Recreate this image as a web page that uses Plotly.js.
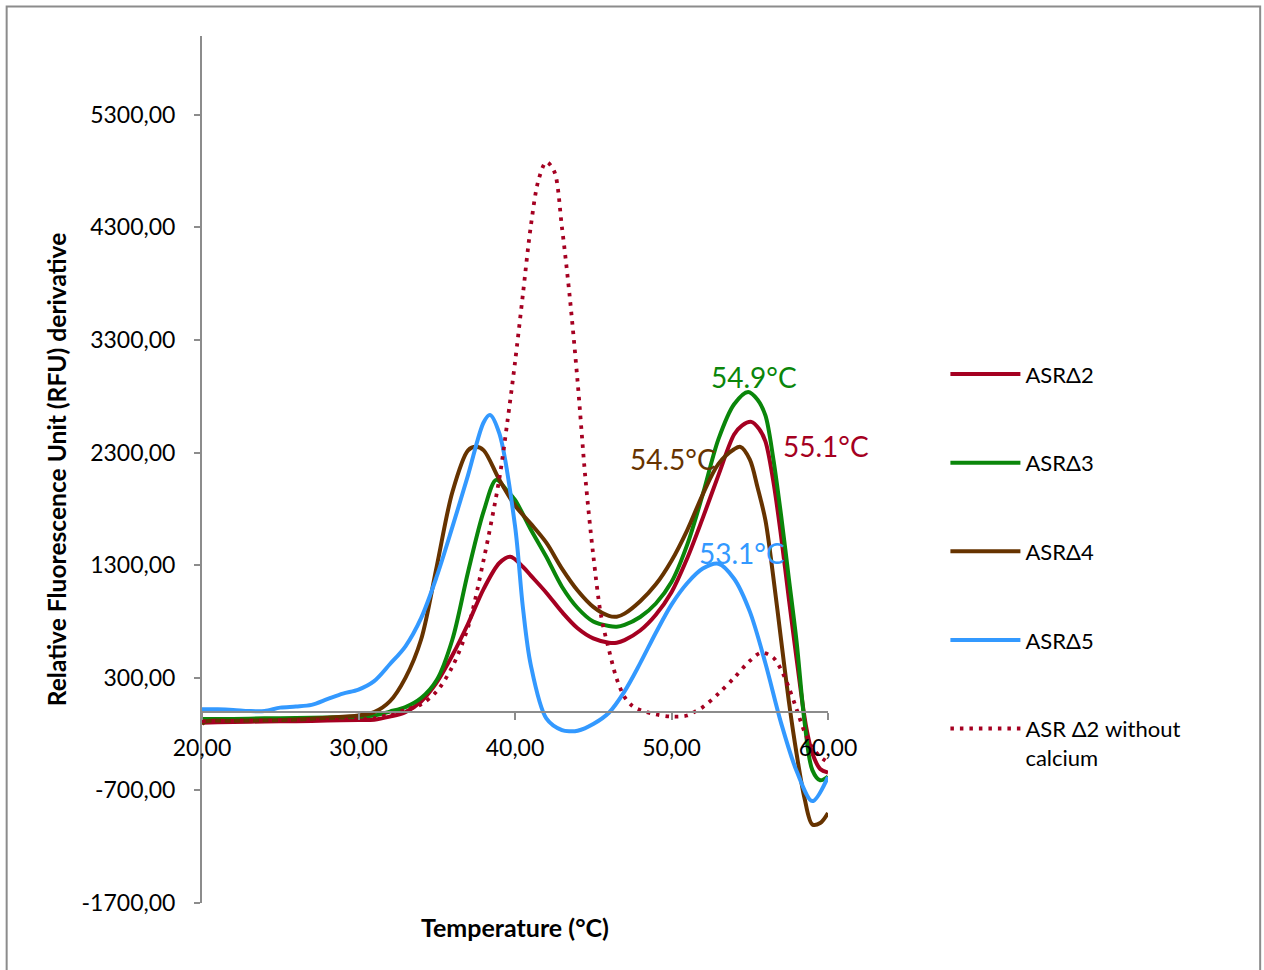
<!DOCTYPE html>
<html>
<head>
<meta charset="utf-8">
<script src="https://cdn.plot.ly/plotly-3.0.1.min.js"></script>
<style>
  html, body { margin: 0; padding: 0; background: #ffffff; }
  #chart { width: 1264px; height: 970px; }
</style>
</head>
<body>
<div id="chart"></div>
<script>
// ---- data ----
const seriesNames = ['ASR\u03942', 'ASR\u03943', 'ASR\u03944', 'ASR\u03945', 'ASR \u03942 without<br>calcium'];

const asr2X = [20,21,22,24,26,28,30,31,32,33,34,35,36,37,38,39,39.7,40.5,41,42,43,44,45,46,46.5,47,48,49,50,51,52,53,54,54.5,55.1,55.6,56,56.5,57,57.5,58,58.6,59,59.5,60];
const asr2Y = [-100,-95,-92,-88,-85,-80,-75,-72,-45,-5,90,260,500,780,1090,1320,1375,1287,1210,1056,885,740,650,612,612,635,720,860,1060,1360,1720,2100,2460,2540,2573,2510,2400,2050,1560,1000,461,-133,-370,-510,-541];

const asr3X = [20,22,24,26,28,30,31,32,33,34,35,36,37,38,38.8,39.5,40,41,42,43,44,45,46,46.5,47,48,49,50,51,52,53,54,54.9,55.5,56,56.5,57,57.5,58,58.5,59,59.5,60];
const asr3Y = [-65,-65,-60,-58,-52,-45,-35,0,40,120,280,640,1240,1780,2058,1960,1880,1620,1375,1109,920,800,760,754,770,840,960,1150,1480,1930,2420,2730,2839,2770,2630,2250,1745,1180,612,-90,-520,-610,-577];

const asr4X = [20,20.3,22,24,26,28,30,31,32,33,34,35,36,37,37.5,38,39,40,41,42,43,44,45,46,46.5,47,48,49,50,51,52,53,54,54.4,55,55.5,56,56.5,57,57.5,58,58.5,59,59.5,60];
const asr4Y = [-110,-85,-82,-78,-70,-55,-35,-5,90,300,640,1290,1950,2320,2351,2320,2058,1830,1670,1500,1270,1075,930,850,843,870,980,1130,1340,1610,1930,2200,2330,2351,2240,1990,1700,1200,640,90,-380,-770,-1003,-990,-900];

const asr5X = [20,21,22,23,24,25,26,27,28,29,30,31,32,33,34,35,36,37,38,38.4,39,40,40.5,41,42,43,43.5,44,45,46,47,48,49,50,51,52,53,54,55,56,57,58,59,60];
const asr5Y = [20,20,15,5,5,35,45,60,110,160,195,270,420,580,830,1200,1640,2100,2570,2635,2470,1650,930,420,-60,-165,-175,-170,-110,-10,180,430,700,950,1140,1270,1313,1180,890,430,-100,-530,-795,-580];

const noCaX = [20,22,24,26,28,30,31,32,33,34,35,36,37,38,39,39.5,40,40.5,41,41.5,42,42.5,43,43.5,44,44.5,45,45.5,46,46.5,47,47.5,48,49,50,51,51.5,52,53,54,55,55.75,56.5,57,57.5,58,58.5,59,59.5,60];
const noCaY = [-85,-82,-80,-78,-75,-70,-60,-25,15,65,180,400,750,1350,2070,2560,3100,3700,4300,4720,4880,4800,4300,3680,2930,2070,1390,850,550,290,130,50,15,-25,-44,-35,0,40,160,300,450,524,479,373,213,18,-180,-320,-400,-450];

const xTickVals = [20, 30, 40, 50, 60];
const xTickText = ['20,00', '30,00', '40,00', '50,00', '60,00'];
const yTickVals = [-1700, -700, 300, 1300, 2300, 3300, 4300, 5300];
const yTickText = ['-1700,00', '-700,00', '300,00', '1300,00', '2300,00', '3300,00', '4300,00', '5300,00'];

const peakLabels = ['54.9\u00B0C', '55.1\u00B0C', '54.5\u00B0C', '53.1\u00B0C'];
const xTitle = 'Temperature (\u00B0C)';
const yTitle = 'Relative Fluorescence Unit (RFU) derivative';

// ---- styling ----
const colRed = '#A50021', colGreen = '#0A860A', colBrown = '#663300', colBlue = '#3399FF';
const FONT = 'Lato, "Open Sans", sans-serif';
const yMin = -1700, yMax = 6000;

function solid(x, y, name, color, group) {
  return { x: x, y: y, name: name, type: 'scatter', mode: 'lines', legendgroup: group,
    line: { color: color, width: 4, shape: 'spline', smoothing: 0.9 } };
}

const traces = [
  solid(asr2X, asr2Y, seriesNames[0], colRed, 'g1'),
  solid(asr3X, asr3Y, seriesNames[1], colGreen, 'g2'),
  solid(asr4X, asr4Y, seriesNames[2], colBrown, 'g3'),
  solid(asr5X, asr5Y, seriesNames[3], colBlue, 'g4'),
  { x: noCaX, y: noCaY, name: seriesNames[4], type: 'scatter', mode: 'lines', legendgroup: 'g5',
    line: { color: colRed, width: 3.8, dash: '3.5px,6px', shape: 'spline', smoothing: 0.9 } }
];

const L = 202, R = 828.5, T = 35.5, B = 903;
const W = 1264, H = 970;
const pw = R - L, ph = B - T;
const px = v => (v - L) / pw;       // pixel -> paper x
const py = v => (B - v) / ph;       // pixel -> paper y

const layout = {
  width: W, height: H,
  margin: { l: L, r: W - R, t: T, b: H - B, pad: 0 },
  paper_bgcolor: '#ffffff', plot_bgcolor: '#ffffff',
  font: { family: FONT, size: 16, color: '#000000' },
  showlegend: true,
  xaxis: {
    range: [20, 60], anchor: 'free', position: (0 - yMin) / (yMax - yMin),
    tickvals: xTickVals, ticktext: xTickText,
    showline: true, linecolor: '#8C8C8C', linewidth: 2,
    ticks: 'outside', ticklen: 7, tickwidth: 2, tickcolor: '#8C8C8C',
    ticklabelstandoff: 9,
    showgrid: false, zeroline: false,
    tickfont: { family: FONT, size: 23, color: '#000' }
  },
  yaxis: {
    range: [yMin, yMax],
    tickvals: yTickVals, ticktext: yTickText,
    showline: true, linecolor: '#8C8C8C', linewidth: 2,
    ticks: 'outside', ticklen: 6, tickwidth: 2, tickcolor: '#8C8C8C',
    ticklabelstandoff: 14,
    showgrid: false, zeroline: false,
    tickfont: { family: FONT, size: 23, color: '#000' },
    title: { text: yTitle, standoff: 8,
      font: { family: FONT, size: 24.6, color: '#000', weight: 'bold' } }
  },
  legend: {
    x: px(946), y: py(353), xanchor: 'left', yanchor: 'top',
    itemwidth: 70, tracegroupgap: 57, valign: 'top',
    bgcolor: 'rgba(0,0,0,0)', borderwidth: 0,
    font: { family: FONT, size: 22, color: '#000' }
  },
  annotations: [
    { x: 55.3, y: 2972, text: peakLabels[0], showarrow: false, font: { family: FONT, size: 28, color: colGreen } },
    { x: 59.9, y: 2360, text: peakLabels[1], showarrow: false, font: { family: FONT, size: 28, color: colRed } },
    { x: 50.1, y: 2245, text: peakLabels[2], showarrow: false, font: { family: FONT, size: 28, color: colBrown } },
    { x: 54.5, y: 1411, text: peakLabels[3], showarrow: false, font: { family: FONT, size: 28, color: colBlue } },
    { xref: 'paper', yref: 'paper', x: 0.5, y: py(927), xanchor: 'center', yanchor: 'middle',
      text: xTitle, showarrow: false, font: { family: FONT, size: 25, color: '#000', weight: 'bold' } }
  ],
  shapes: [
    { type: 'rect', xref: 'paper', yref: 'paper', x0: px(6.5), x1: px(1261), y0: py(975), y1: py(6),
      line: { color: '#8C8C8C', width: 2 }, fillcolor: 'rgba(0,0,0,0)', layer: 'below' }
  ]
};

Plotly.newPlot('chart', traces, layout, { displayModeBar: false, staticPlot: true });
</script>
</body>
</html>
